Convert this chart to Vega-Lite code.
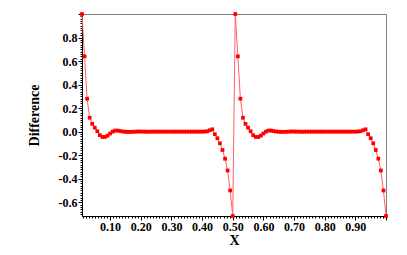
{
  "$schema": "https://vega.github.io/schema/vega-lite/v6.json",
  "autosize": {"type": "none"},
  "padding": {"left": 82, "top": 14, "right": 21, "bottom": 39},
  "width": 304,
  "height": 202,
  "background": "white",
  "config": {
    "view": {"stroke": "#808080", "strokeWidth": 1},
    "axis": {"labelFont": "Liberation Serif", "labelFontWeight": "bold", "labelFontSize": 12, "labelColor": "#000", "titleFont": "Liberation Serif", "titleFontWeight": "bold", "titleFontSize": 14, "titleColor": "#000", "domainColor": "#000", "tickColor": "#000", "grid": false, "labelOverlap": false, "labelFlush": false}
  },
  "data": {"values": [
    {"x": 0.00833, "d": 1.0}, {"x": 0.01667, "d": 0.64}, {"x": 0.025, "d": 0.28}, {"x": 0.03333, "d": 0.118}, {"x": 0.04167, "d": 0.066},
    {"x": 0.05, "d": 0.034}, {"x": 0.05833, "d": 0.003}, {"x": 0.06667, "d": -0.03}, {"x": 0.075, "d": -0.045}, {"x": 0.08333, "d": -0.045},
    {"x": 0.09167, "d": -0.034}, {"x": 0.1, "d": -0.016}, {"x": 0.10833, "d": 0.0}, {"x": 0.11667, "d": 0.009}, {"x": 0.125, "d": 0.009},
    {"x": 0.13333, "d": 0.005}, {"x": 0.14167, "d": 0.001}, {"x": 0.15, "d": -0.001}, {"x": 0.15833, "d": -0.002}, {"x": 0.16667, "d": -0.002},
    {"x": 0.175, "d": -0.001}, {"x": 0.18333, "d": 0.0}, {"x": 0.19167, "d": 0.001}, {"x": 0.2, "d": 0.001}, {"x": 0.20833, "d": 0.0},
    {"x": 0.21667, "d": 0.0}, {"x": 0.225, "d": -0.001}, {"x": 0.23333, "d": 0.0}, {"x": 0.24167, "d": 0.0}, {"x": 0.25, "d": 0.0},
    {"x": 0.25833, "d": 0.0}, {"x": 0.26667, "d": 0.0}, {"x": 0.275, "d": 0.0}, {"x": 0.28333, "d": 0.0}, {"x": 0.29167, "d": 0.0},
    {"x": 0.3, "d": 0.0}, {"x": 0.30833, "d": 0.0}, {"x": 0.31667, "d": 0.0}, {"x": 0.325, "d": 0.0}, {"x": 0.33333, "d": 0.0},
    {"x": 0.34167, "d": 0.0}, {"x": 0.35, "d": 0.0}, {"x": 0.35833, "d": 0.0}, {"x": 0.36667, "d": 0.0}, {"x": 0.375, "d": 0.0},
    {"x": 0.38333, "d": 0.0}, {"x": 0.39167, "d": 0.0}, {"x": 0.4, "d": 0.0}, {"x": 0.40833, "d": 0.001}, {"x": 0.41667, "d": 0.003},
    {"x": 0.425, "d": 0.012}, {"x": 0.43333, "d": 0.02}, {"x": 0.44167, "d": -0.022}, {"x": 0.45, "d": -0.056}, {"x": 0.45833, "d": -0.099},
    {"x": 0.46667, "d": -0.156}, {"x": 0.475, "d": -0.23}, {"x": 0.48333, "d": -0.33}, {"x": 0.49167, "d": -0.5}, {"x": 0.5, "d": -0.717},
    {"x": 0.50833, "d": 1.0}, {"x": 0.51667, "d": 0.64}, {"x": 0.525, "d": 0.28}, {"x": 0.53333, "d": 0.118}, {"x": 0.54167, "d": 0.066},
    {"x": 0.55, "d": 0.034}, {"x": 0.55833, "d": 0.003}, {"x": 0.56667, "d": -0.03}, {"x": 0.575, "d": -0.045}, {"x": 0.58333, "d": -0.045},
    {"x": 0.59167, "d": -0.034}, {"x": 0.6, "d": -0.016}, {"x": 0.60833, "d": 0.0}, {"x": 0.61667, "d": 0.009}, {"x": 0.625, "d": 0.009},
    {"x": 0.63333, "d": 0.005}, {"x": 0.64167, "d": 0.001}, {"x": 0.65, "d": -0.001}, {"x": 0.65833, "d": -0.002}, {"x": 0.66667, "d": -0.002},
    {"x": 0.675, "d": -0.001}, {"x": 0.68333, "d": 0.0}, {"x": 0.69167, "d": 0.001}, {"x": 0.7, "d": 0.001}, {"x": 0.70833, "d": 0.0},
    {"x": 0.71667, "d": 0.0}, {"x": 0.725, "d": -0.001}, {"x": 0.73333, "d": 0.0}, {"x": 0.74167, "d": 0.0}, {"x": 0.75, "d": 0.0},
    {"x": 0.75833, "d": 0.0}, {"x": 0.76667, "d": 0.0}, {"x": 0.775, "d": 0.0}, {"x": 0.78333, "d": 0.0}, {"x": 0.79167, "d": 0.0},
    {"x": 0.8, "d": 0.0}, {"x": 0.80833, "d": 0.0}, {"x": 0.81667, "d": 0.0}, {"x": 0.825, "d": 0.0}, {"x": 0.83333, "d": 0.0},
    {"x": 0.84167, "d": 0.0}, {"x": 0.85, "d": 0.0}, {"x": 0.85833, "d": 0.0}, {"x": 0.86667, "d": 0.0}, {"x": 0.875, "d": 0.0},
    {"x": 0.88333, "d": 0.0}, {"x": 0.89167, "d": 0.0}, {"x": 0.9, "d": 0.0}, {"x": 0.90833, "d": 0.001}, {"x": 0.91667, "d": 0.003},
    {"x": 0.925, "d": 0.012}, {"x": 0.93333, "d": 0.02}, {"x": 0.94167, "d": -0.022}, {"x": 0.95, "d": -0.056}, {"x": 0.95833, "d": -0.099},
    {"x": 0.96667, "d": -0.156}, {"x": 0.975, "d": -0.23}, {"x": 0.98333, "d": -0.33}, {"x": 0.99167, "d": -0.5}, {"x": 1.0, "d": -0.717}
  ]},
  "encoding": {
    "x": {"field": "x", "type": "quantitative", "title": "X",
      "scale": {"domain": [0.00833, 1.0], "nice": false, "zero": false},
      "axis": {
        "values": [0.01,0.02,0.03,0.04,0.05,0.06,0.07,0.08,0.09,0.1,0.11,0.12,0.13,0.14,0.15,0.16,0.17,0.18,0.19,0.2,0.21,0.22,0.23,0.24,0.25,0.26,0.27,0.28,0.29,0.3,0.31,0.32,0.33,0.34,0.35,0.36,0.37,0.38,0.39,0.4,0.41,0.42,0.43,0.44,0.45,0.46,0.47,0.48,0.49,0.5,0.51,0.52,0.53,0.54,0.55,0.56,0.57,0.58,0.59,0.6,0.61,0.62,0.63,0.64,0.65,0.66,0.67,0.68,0.69,0.7,0.71,0.72,0.73,0.74,0.75,0.76,0.77,0.78,0.79,0.8,0.81,0.82,0.83,0.84,0.85,0.86,0.87,0.88,0.89,0.9,0.91,0.92,0.93,0.94,0.95,0.96,0.97,0.98,0.99,1.0],
        "labelExpr": "(abs(datum.value*10 - round(datum.value*10)) < 0.000001 && datum.value < 0.95) ? format(datum.value, '.2f') : ''",
        "tickSize": {"condition": {"test": "abs(datum.value*10 - round(datum.value*10)) < 0.000001", "value": 4}, "value": 2},
        "labelPadding": 1,
        "titlePadding": 1
      }
    },
    "y": {"field": "d", "type": "quantitative", "title": "Difference",
      "scale": {"domain": [-0.717, 1.0], "nice": false, "zero": false},
      "axis": {
        "values": [-0.7,-0.68,-0.66,-0.64,-0.62,-0.6,-0.58,-0.56,-0.54,-0.52,-0.5,-0.48,-0.46,-0.44,-0.42,-0.4,-0.38,-0.36,-0.34,-0.32,-0.3,-0.28,-0.26,-0.24,-0.22,-0.2,-0.18,-0.16,-0.14,-0.12,-0.1,-0.08,-0.06,-0.04,-0.02,0,0.02,0.04,0.06,0.08,0.1,0.12,0.14,0.16,0.18,0.2,0.22,0.24,0.26,0.28,0.3,0.32,0.34,0.36,0.38,0.4,0.42,0.44,0.46,0.48,0.5,0.52,0.54,0.56,0.58,0.6,0.62,0.64,0.66,0.68,0.7,0.72,0.74,0.76,0.78,0.8,0.82,0.84,0.86,0.88,0.9,0.92,0.94,0.96,0.98,1.0],
        "labelExpr": "(abs(datum.value*5 - round(datum.value*5)) < 0.000001 && datum.value < 0.95) ? replace(format(datum.value, '.1f'), '\u2212', '-') : ''",
        "tickSize": {"condition": {"test": "abs(datum.value*5 - round(datum.value*5)) < 0.000001", "value": 4}, "value": 2},
        "labelPadding": 1,
        "titlePadding": 17
      }
    }
  },
  "layer": [
    {"mark": {"type": "line", "color": "#ff6060", "strokeWidth": 1}},
    {"mark": {"type": "square", "color": "#ff0000", "filled": true, "opacity": 1, "size": 14}}
  ]
}
